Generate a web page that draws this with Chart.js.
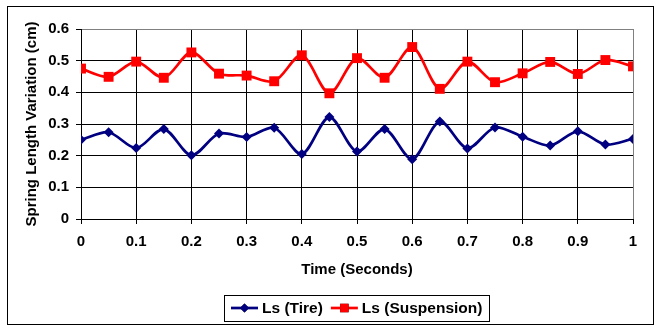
<!DOCTYPE html>
<html lang="en">
<head>
<meta charset="UTF-8" />
<title>Spring Length Variation</title>
<style>
  html, body { margin: 0; padding: 0; background: #fff; }
  #wrap { width: 664px; height: 332px; }
</style>
</head>
<body>
<div id="wrap"><canvas id="springChart" width="664" height="332"></canvas></div>

<script src="https://cdn.jsdelivr.net/npm/chart.js"></script>
<script>
  // time samples (s) and the two spring length series (cm)
  const timeSec = [0, 0.05, 0.1, 0.15, 0.2, 0.25, 0.3, 0.35, 0.4, 0.45, 0.5,
                   0.55, 0.6, 0.65, 0.7, 0.75, 0.8, 0.85, 0.9, 0.95, 1];
  const lsTire = [0.250, 0.274, 0.224, 0.284, 0.201, 0.270, 0.259, 0.288, 0.205, 0.322, 0.213,
                  0.284, 0.189, 0.308, 0.223, 0.289, 0.260, 0.232, 0.277, 0.235, 0.253];
  const lsSuspension = [0.475, 0.449, 0.497, 0.446, 0.526, 0.459, 0.453, 0.435, 0.517, 0.397, 0.508,
                        0.446, 0.543, 0.411, 0.497, 0.432, 0.460, 0.496, 0.458, 0.502, 0.482];
  const xTickLabels = ['0', '0.1', '0.2', '0.3', '0.4', '0.5', '0.6', '0.7', '0.8', '0.9', '1'];
  const yTickLabels = ['0', '0.1', '0.2', '0.3', '0.4', '0.5', '0.6'];
  const seriesNames = ['Ls (Tire)', 'Ls (Suspension)'];

  const FONT = "'Liberation Sans', Arial, sans-serif";
  const tickFont = { family: FONT, size: 15, weight: 'bold' };

  // outer frame + boxed legend with line-and-marker samples
  const frameLegend = {
    id: 'frameLegend',
    afterDraw(chart) {
      const c = chart.ctx;
      const area = chart.chartArea;
      c.save();
      c.strokeStyle = '#000';
      c.lineWidth = 1;
      c.strokeRect(7.5, 6.5, 646, 318);

      c.font = 'bold 15.5px ' + FONT;
      c.textBaseline = 'middle';
      const lineW = 27, gapText = 4, gapItem = 8, padX = 7;
      const items = chart.data.datasets.map(ds => ({ ds, w: c.measureText(ds.label).width }));
      let total = padX * 2 - gapItem;
      items.forEach(it => { total += lineW + gapText + it.w + gapItem; });
      const boxL = Math.round((area.left + area.right) / 2 - total / 2);
      const boxT = 295, boxH = 26, midY = boxT + boxH / 2;
      c.strokeRect(boxL + 0.5, boxT + 0.5, Math.round(total), boxH);

      let x = boxL + padX;
      items.forEach(it => {
        const ds = it.ds;
        c.strokeStyle = ds.borderColor;
        c.lineWidth = ds.borderWidth;
        c.beginPath();
        c.moveTo(x, midY);
        c.lineTo(x + lineW, midY);
        c.stroke();
        Chart.helpers.drawPoint(c, {
          pointStyle: ds.pointStyle,
          radius: ds.legendRadius,
          borderWidth: 0
        }, x + lineW / 2, midY);
        c.fillStyle = ds.backgroundColor;
        c.fill();
        c.fillStyle = '#000';
        c.fillText(ds.label, x + lineW + gapText, midY + 1);
        x += lineW + gapText + it.w + gapItem;
      });
      c.restore();
    }
  };

  const toPoints = vals => vals.map((v, i) => ({ x: timeSec[i], y: v }));

  new Chart(document.getElementById('springChart'), {
    type: 'line',
    data: {
      datasets: [{
        label: seriesNames[0],
        data: toPoints(lsTire),
        borderColor: '#000080',
        backgroundColor: '#000080',
        borderWidth: 2.7,
        pointStyle: 'rectRot',
        pointRadius: 5,
        legendRadius: 4.5,
        pointBorderWidth: 0,
        tension: 0.3
      }, {
        label: seriesNames[1],
        data: toPoints(lsSuspension),
        borderColor: '#ff0000',
        backgroundColor: '#ff0000',
        borderWidth: 2.7,
        pointStyle: 'rect',
        pointRadius: 7,
        legendRadius: 6,
        pointBorderWidth: 0,
        tension: 0.3
      }]
    },
    options: {
      responsive: false,
      animation: false,
      layout: { padding: { left: 0, top: 29, right: 31, bottom: 50 } },
      plugins: { legend: { display: false }, tooltip: { enabled: false } },
      scales: {
        x: {
          type: 'linear',
          min: 0, max: 1,
          afterFit(scale) { scale.height = 63; },
          afterBuildTicks(scale) {
            scale.ticks = xTickLabels.map(t => ({ value: parseFloat(t) }));
          },
          ticks: {
            font: tickFont, color: '#000', padding: 9, maxRotation: 0,
            callback: (v, i) => xTickLabels[i]
          },
          grid: {
            color: ctx => (ctx.tick && ctx.tick.value === 1 ? '#808080' : '#000'),
            tickColor: '#000', tickLength: 5, lineWidth: 1
          },
          border: { color: '#000' },
          title: {
            display: true, text: 'Time (Seconds)', color: '#000',
            font: { family: FONT, size: 15, weight: 'bold' },
            padding: { top: 0, bottom: 3 }
          }
        },
        y: {
          min: 0, max: 0.6,
          afterFit(scale) { scale.width = 81; },
          afterBuildTicks(scale) {
            scale.ticks = yTickLabels.map(t => ({ value: parseFloat(t) }));
          },
          ticks: {
            font: tickFont, color: '#000', padding: 7,
            callback: (v, i) => yTickLabels[i]
          },
          grid: {
            color: ctx => (ctx.tick && ctx.tick.value === 0.6 ? '#808080' : '#000'),
            tickColor: '#000', tickLength: 5, lineWidth: 1
          },
          border: { color: '#000' },
          title: {
            display: true, text: 'Spring Length Variation (cm)', color: '#000',
            font: { family: FONT, size: 15, weight: 'bold' },
            padding: { top: 23, bottom: 0 }
          }
        }
      }
    },
    plugins: [frameLegend]
  });
</script>
</body>
</html>
